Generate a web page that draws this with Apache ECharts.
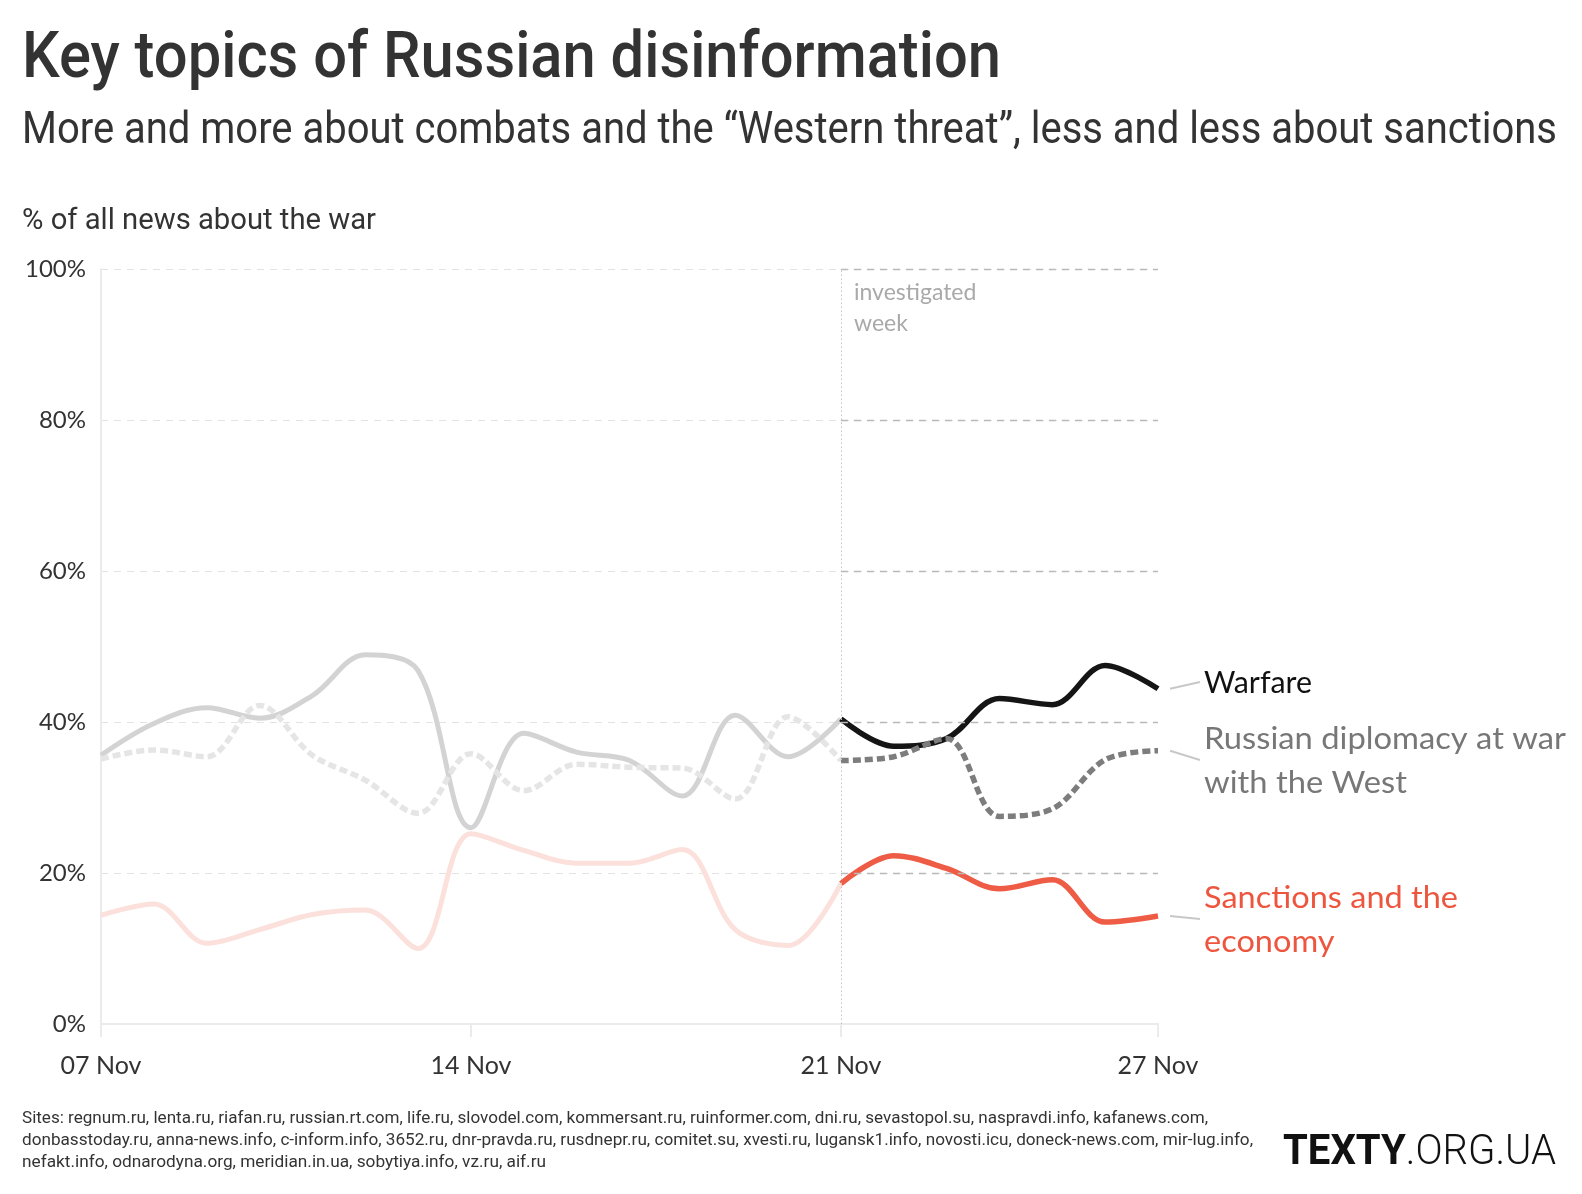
<!DOCTYPE html>
<html><head><meta charset="utf-8">
<script src="https://cdn.jsdelivr.net/npm/echarts@6/dist/echarts.min.js"></script>
<style>html,body{margin:0;padding:0;background:#fff}#c{width:1582px;height:1194px}</style>
</head><body><div id="c"></div>
<script>
// ---------- data ----------
const days = ['07 Nov','08 Nov','09 Nov','10 Nov','11 Nov','12 Nov','13 Nov','14 Nov','15 Nov','16 Nov','17 Nov','18 Nov','19 Nov','20 Nov','21 Nov','22 Nov','23 Nov','24 Nov','25 Nov','26 Nov','27 Nov'];
const tickDays = ['07 Nov','14 Nov','21 Nov','27 Nov'];
const investigatedStart = '21 Nov';
const yMin = 0, yMax = 100, yStep = 20;
const warfare   = [35.6,39.8,41.9,40.5,43.5,48.9,46.8,26.0,38.5,36.0,34.9,30.2,40.9,35.4,40.4,36.8,37.8,43.1,42.3,47.5,44.4];
const diplomacy = [35.1,36.3,35.4,42.2,35.6,32.3,27.9,35.8,30.9,34.4,34.0,33.9,29.8,40.7,34.9,35.4,37.8,27.5,28.5,35.0,36.2];
const sanctions = [14.4,15.9,10.7,12.5,14.5,15.1,10.0,25.2,23.0,21.3,21.3,23.1,12.5,10.4,18.6,22.3,20.6,17.9,19.1,13.5,14.3];
const warfareLabel = ['Warfare'];
const diplomacyLabel = ['Russian diplomacy at war','with the West'];
const sanctionsLabel = ['Sanctions and the','economy'];
const titleText = 'Key topics of Russian disinformation';
const subtitleText = 'More and more about combats and the \u201cWestern threat\u201d, less and less about sanctions';
const yNameText = '% of all news about the war';
const noteLines = ['investigated','week'];
const footerLines = [
 'Sites: regnum.ru, lenta.ru, riafan.ru, russian.rt.com, life.ru, slovodel.com, kommersant.ru, ruinformer.com, dni.ru, sevastopol.su, naspravdi.info, kafanews.com,',
 'donbasstoday.ru, anna-news.info, c-inform.info, 3652.ru, dnr-pravda.ru, rusdnepr.ru, comitet.su, xvesti.ru, lugansk1.info, novosti.icu, doneck-news.com, mir-lug.info,',
 'nefakt.info, odnarodyna.org, meridian.in.ua, sobytiya.info, vz.ru, aif.ru'
];

// ---------- chart ----------
const chart = echarts.init(document.getElementById('c'), null, {renderer:'canvas'});
const splitIdx = days.indexOf(investigatedStart);
const lastIdx = days.length - 1;
const before = a => a.map((v,i) => i <= splitIdx ? v : '-');
const after  = a => a.map((v,i) => i >= splitIdx ? v : '-');
const DASH = [8,4];
function lineSeries(name, data, color, width, dashed, extra){
  return Object.assign({
    type:'line', name, data, smooth:0.35, symbol:'none', silent:true, connectNulls:false,
    lineStyle:{color, width, type: dashed ? DASH : 'solid', cap:'butt', join:'round'}
  }, extra || {});
}
const gridVals = [];
for (let v = yMin + yStep; v <= yMax; v += yStep) gridVals.push(v);

const option = {
  animation:false,
  grid:{left:101, right:424, top:269, bottom:170, containLabel:false},
  xAxis:{type:'category', data:days, boundaryGap:false,
    axisLine:{show:true, lineStyle:{color:'#ebebeb', width:2}},
    axisTick:{show:true, length:13, interval:(i,v)=>tickDays.includes(v), lineStyle:{color:'#ebebeb', width:2}},
    axisLabel:{interval:(i,v)=>tickDays.includes(v), color:'#333', fontFamily:'Lato', fontSize:25, margin:29},
    splitLine:{show:false}},
  yAxis:{type:'value', min:yMin, max:yMax, interval:yStep,
    axisLine:{show:true, lineStyle:{color:'#ebebeb', width:2}},
    axisTick:{show:false},
    axisLabel:{formatter:'{value}%', color:'#333', fontFamily:'Lato', fontSize:24, margin:15},
    splitLine:{show:true, lineStyle:{color:'#e3e3e3', width:1.2, type:[7,6]}}},
  series:[
    lineSeries('Warfare (before)', before(warfare), '#d3d3d3', 5, false, {
      markLine:{silent:true, symbol:['none','none'], label:{show:false},
        data:[
          {xAxis:investigatedStart, lineStyle:{color:'#c4c4c4', width:1, type:[1.5,2.5]}},
          ...gridVals.map(v => [{coord:[investigatedStart, v], lineStyle:{color:'#b9b9b9', width:1.3, type:[7,6]}}, {coord:[days[lastIdx], v]}])
        ]}
    }),
    lineSeries('Diplomacy (before)', before(diplomacy), '#e5e5e5', 5.5, true),
    lineSeries('Sanctions (before)', before(sanctions), '#fbe0db', 5, false),
    lineSeries('Warfare', after(warfare), '#151515', 5.5, false),
    lineSeries('Diplomacy', after(diplomacy), '#7d7d7d', 5.5, true),
    lineSeries('Sanctions', after(sanctions), '#ee5c45', 5.5, false)
  ]
};
chart.setOption(option);

// ---------- texts ----------
const mctx = document.createElement('canvas').getContext('2d');
function measure(text, weight, size, family){ mctx.font = weight + ' ' + size + 'px ' + family; return mctx.measureText(text).width; }
function txt(text, x, y, o){
  const size = o.size, weight = o.weight || 'normal', family = o.family || 'Lato';
  const w = measure(text, weight, size, family);
  const sx = o.width ? o.width / w : 1;
  return {type:'text', x, y, scaleX:sx, scaleY:1, silent:true, z:100,
    style:{text, fill:o.color || '#333', fontSize:size, fontWeight:weight, fontFamily:family, align:'left', verticalAlign:'middle'}};
}
const g = [];
g.push(txt(titleText, 22, 61, {size:64, weight:500, family:'Roboto', width:979, color:'#333'}));
g.push(txt(subtitleText, 22, 132, {size:44, weight:400, family:'Roboto', width:1535, color:'#333'}));
g.push(txt(yNameText, 22, 222, {size:29, weight:400, family:'Roboto', width:354, color:'#333'}));
g.push(txt(noteLines[0], 854, 293, {size:23, color:'#a9a9a9'}));
g.push(txt(noteLines[1], 854, 324, {size:23, color:'#a9a9a9'}));
const footY = [1119, 1141, 1163];
const footW = [1186, 1231, 524];
footerLines.forEach((l,i) => g.push(txt(l, 22, footY[i], {size:16, family:'Roboto', width:footW[i], color:'#333'})));

// logo
const logoSize = 43;
const w1 = measure('TEXTY', 'bold', logoSize, 'Roboto');
const w2 = measure('.ORG.UA', 300, logoSize, 'Roboto');
const lsx = 273 / (w1 + w2);
g.push({type:'text', x:1283, y:1153, scaleX:lsx, silent:true, z:100, style:{text:'TEXTY', fill:'#111', fontSize:logoSize, fontWeight:'bold', fontFamily:'Roboto', verticalAlign:'middle'}});
g.push({type:'text', x:1283 + w1*lsx, y:1153, scaleX:lsx, silent:true, z:100, style:{text:'.ORG.UA', fill:'#111', fontSize:logoSize, fontWeight:300, fontFamily:'Roboto', verticalAlign:'middle'}});

// end labels with connectors
const labelX = 1204, lineGap = 44;
const endLabels = [
  {lines:warfareLabel, data:warfare, color:'#111', cy:682, w:108},
  {lines:diplomacyLabel, data:diplomacy, color:'#777', cy:760, w:362},
  {lines:sanctionsLabel, data:sanctions, color:'#ee553e', cy:919, w:254}
];
endLabels.forEach(L => {
  const p = chart.convertToPixel({gridIndex:0}, [lastIdx, L.data[lastIdx]]);
  g.push({type:'line', silent:true, z:90, shape:{x1:p[0]+12, y1:p[1], x2:labelX-4, y2:L.cy}, style:{stroke:'#c8c8c8', lineWidth:2}});
  const top = L.cy - (L.lines.length-1)*lineGap/2;
  const sx = L.w / measure(L.lines[0], 'normal', 31, 'Lato');
  L.lines.forEach((t,i) => {
    g.push({type:'text', x:labelX, y:top + i*lineGap + 1, scaleX:sx, silent:true, z:100,
      style:{text:t, fill:L.color, fontSize:31, fontFamily:'Lato', verticalAlign:'middle'}});
  });
});
chart.setOption({graphic:g});
</script>
</body></html>
